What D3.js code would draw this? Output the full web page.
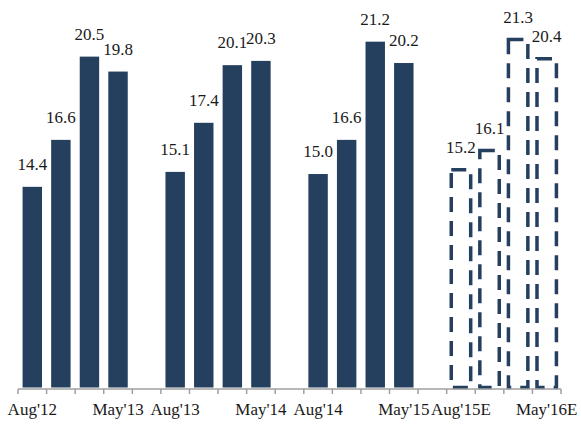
<!DOCTYPE html>
<html>
<head>
<meta charset="utf-8">
<script src="https://cdn.jsdelivr.net/npm/d3@7"></script>
<style>
  html, body { margin: 0; padding: 0; background: #ffffff; }
  svg { display: block; }
</style>
</head>
<body>
<svg id="chart" width="581" height="425"></svg>
<script>
// Periods (19 slots; gaps between years are empty slots)
const periods = ["Aug'12", "Nov'12", "Feb'13", "May'13", "",
                 "Aug'13", "Nov'13", "Feb'14", "May'14", "",
                 "Aug'14", "Nov'14", "Feb'15", "May'15", "",
                 "Aug'15E", "Nov'15E", "Feb'16E", "May'16E"];
const values = [14.4, 16.6, 20.5, 19.8, null,
                15.1, 17.4, 20.1, 20.3, null,
                15.0, 16.6, 21.2, 20.2, null,
                15.2, 16.1, 21.3, 20.4];
const estimate = [false, false, false, false, false,
                  false, false, false, false, false,
                  false, false, false, false, false,
                  true, true, true, true];
const tickLabels = ["Aug'12", "May'13", "Aug'13", "May'14", "Aug'14", "May'15", "Aug'15E", "May'16E"];
const yDomain = [5, 22];

const FONT = "'Liberation Serif'";
const svg = d3.select("#chart");
const navy = "#253F5F";

const x = d3.scaleBand().domain(d3.range(periods.length)).range([18, 561]).padding(0);
const y = d3.scaleLinear().domain(yDomain).range([387.5, 24.6]);
const step = x.bandwidth();
const barW = step * 0.68;
const inset = (step - barW) / 2;

const data = periods.map((p, i) => ({ i, p, v: values[i], e: estimate[i] })).filter(d => d.v !== null);

// solid bars
svg.append("g").selectAll("rect")
  .data(data.filter(d => !d.e))
  .join("rect")
  .attr("x", d => x(d.i) + inset)
  .attr("y", d => y(d.v))
  .attr("width", barW)
  .attr("height", d => y(yDomain[0]) - y(d.v))
  .attr("fill", navy);

// dashed estimate bars
svg.append("g").selectAll("rect")
  .data(data.filter(d => d.e))
  .join("rect")
  .attr("x", d => x(d.i) + inset)
  .attr("y", d => y(d.v))
  .attr("width", barW)
  .attr("height", d => y(yDomain[0]) - y(d.v))
  .attr("fill", "none")
  .attr("stroke", navy)
  .attr("stroke-width", 3.5)
  .attr("stroke-dasharray", "15,9");

// value labels
svg.append("g").selectAll("text")
  .data(data)
  .join("text")
  .attr("x", d => x(d.i) + step / 2)
  .attr("y", d => y(d.v) - 17)
  .attr("text-anchor", "middle")
  .style("font-family", FONT)
  .style("font-size", "17px")
  .style("fill", "#1a1a1a")
  .text(d => d.v.toFixed(1));

// x axis: line + ticks at slot boundaries
const axisG = svg.append("g").attr("transform", "translate(0,389)");
const axis = d3.axisBottom(x).tickSize(0).tickFormat("");
axisG.call(axis);
axisG.selectAll(".tick").remove();
axisG.select(".domain").attr("d", `M${x.range()[0]},0H${x.range()[1]}`)
  .attr("stroke", "#A0A0A0").attr("stroke-width", 1.5);
const boundaries = d3.range(periods.length + 1).map(i => i < periods.length ? x(i) : x(periods.length - 1) + step);
axisG.selectAll("line.tk")
  .data(boundaries)
  .join("line")
  .attr("class", "tk")
  .attr("x1", d => d).attr("x2", d => d)
  .attr("y1", 0).attr("y2", 5)
  .attr("stroke", "#A0A0A0").attr("stroke-width", 1.5);

// category labels
svg.append("g").selectAll("text")
  .data(data.filter(d => tickLabels.includes(d.p)))
  .join("text")
  .attr("x", d => x(d.i) + step / 2)
  .attr("y", 415)
  .attr("text-anchor", "middle")
  .style("font-family", FONT)
  .style("font-size", "17px")
  .style("fill", "#1a1a1a")
  .text(d => d.p);
</script>
</body>
</html>
